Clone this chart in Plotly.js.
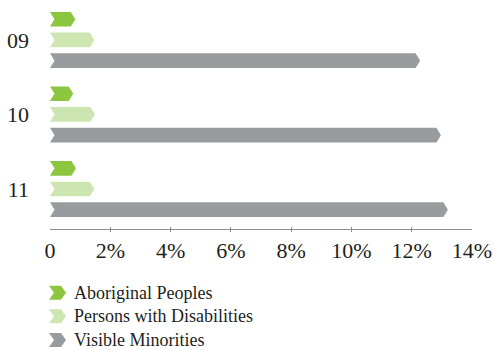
<!DOCTYPE html>
<html>
<head>
<meta charset="utf-8">
<script src="https://cdn.plot.ly/plotly-3.0.1.min.js"></script>
<style>html,body{margin:0;padding:0;background:#fff;}#chart{width:494px;height:350px;}</style>
</head>
<body>
<div id="chart"></div>
<script>
// ---- data ----
var years = ["09", "10", "11"];
var seriesNames = ["Aboriginal Peoples", "Persons with Disabilities", "Visible Minorities"];
var aboriginal = [0.84, 0.77, 0.86];
var disabilities = [1.47, 1.49, 1.47];
var visible = [12.28, 12.97, 13.2];
var xTickVals = [0, 2, 4, 6, 8, 10, 12, 14];
var xTickText = ["0", "2%", "4%", "6%", "8%", "10%", "12%", "14%"];
var colors = ["#8cc63f", "#cde6b1", "#999c9f"];

// ---- layout constants ----
var groupStep = 3.6;   // y units between year groups
var halfH = 0.355;     // half bar thickness (y units)
var notch = 0.15;      // chevron depth in x units
var fontFam = "Liberation Serif";
var textColor = "#231f20";

function yPos(g, b) { return g * groupStep + b; }

function chevronTrace(values, b, color, name) {
  var xs = [], ys = [];
  values.forEach(function (v, g) {
    var c = yPos(g, b);
    xs.push(0, v - notch, v, v - notch, 0, notch, 0, null);
    ys.push(c - halfH, c - halfH, c, c + halfH, c + halfH, c, c - halfH, null);
  });
  return {
    type: "scatter", mode: "lines", x: xs, y: ys, fill: "toself",
    fillcolor: color, line: { width: 0, color: color },
    name: name, hoverinfo: "skip", showlegend: false
  };
}

var allSeries = [aboriginal, disabilities, visible];
var traces = allSeries.map(function (vals, i) {
  return chevronTrace(vals, i, colors[i], seriesNames[i]);
});

var plotH = 232, plotTop = 0;
var shapes = [{
  type: "line", xref: "x", yref: "paper", x0: 0, x1: 14,
  y0: 2.5 / plotH, y1: 2.5 / plotH,
  line: { color: "#8a8c8e", width: 1.2 }
}];
var annotations = [];
var legendCenters = [292.7, 316.2, 340];
seriesNames.forEach(function (nm, i) {
  var py = legendCenters[i];
  var yp = (plotH - py) / plotH;
  shapes.push({
    type: "path", xref: "paper", yref: "paper",
    xsizemode: "pixel", ysizemode: "pixel",
    xanchor: (49 - 50) / 422, yanchor: yp,
    path: "M0,-7 L12,-7 L17,0 L12,7 L0,7 L5,0 Z",
    fillcolor: colors[i], line: { width: 0 }
  });
  annotations.push({
    xref: "paper", yref: "paper", x: (72 - 50) / 422, y: yp,
    xanchor: "left", yanchor: "middle", showarrow: false,
    text: nm, font: { family: fontFam, size: 18, color: textColor }
  });
});

var layout = {
  width: 494, height: 350,
  margin: { l: 50, r: 22, t: plotTop, b: 350 - plotH, pad: 0 },
  paper_bgcolor: "#fff", plot_bgcolor: "#fff",
  showlegend: false,
  font: { family: fontFam, color: textColor },
  xaxis: {
    range: [0, 14], tickvals: xTickVals, ticktext: xTickText,
    showgrid: false, zeroline: false, showline: false,
    ticks: "inside", ticklen: 5, tickwidth: 1, tickcolor: "#8a8c8e",
    ticklabelstandoff: 3,
    tickfont: { family: fontFam, size: 22, color: textColor },
    fixedrange: true
  },
  yaxis: {
    range: [-0.93 + plotH / 20.7, -0.93],
    tickvals: years.map(function (_, g) { return yPos(g, 1); }),
    ticktext: years,
    showgrid: false, zeroline: false, showline: false,
    ticks: "", ticklabelstandoff: 20,
    tickfont: { family: fontFam, size: 22, color: textColor },
    fixedrange: true
  },
  shapes: shapes,
  annotations: annotations
};

Plotly.newPlot("chart", traces, layout, { staticPlot: true, displayModeBar: false });
</script>
</body>
</html>
